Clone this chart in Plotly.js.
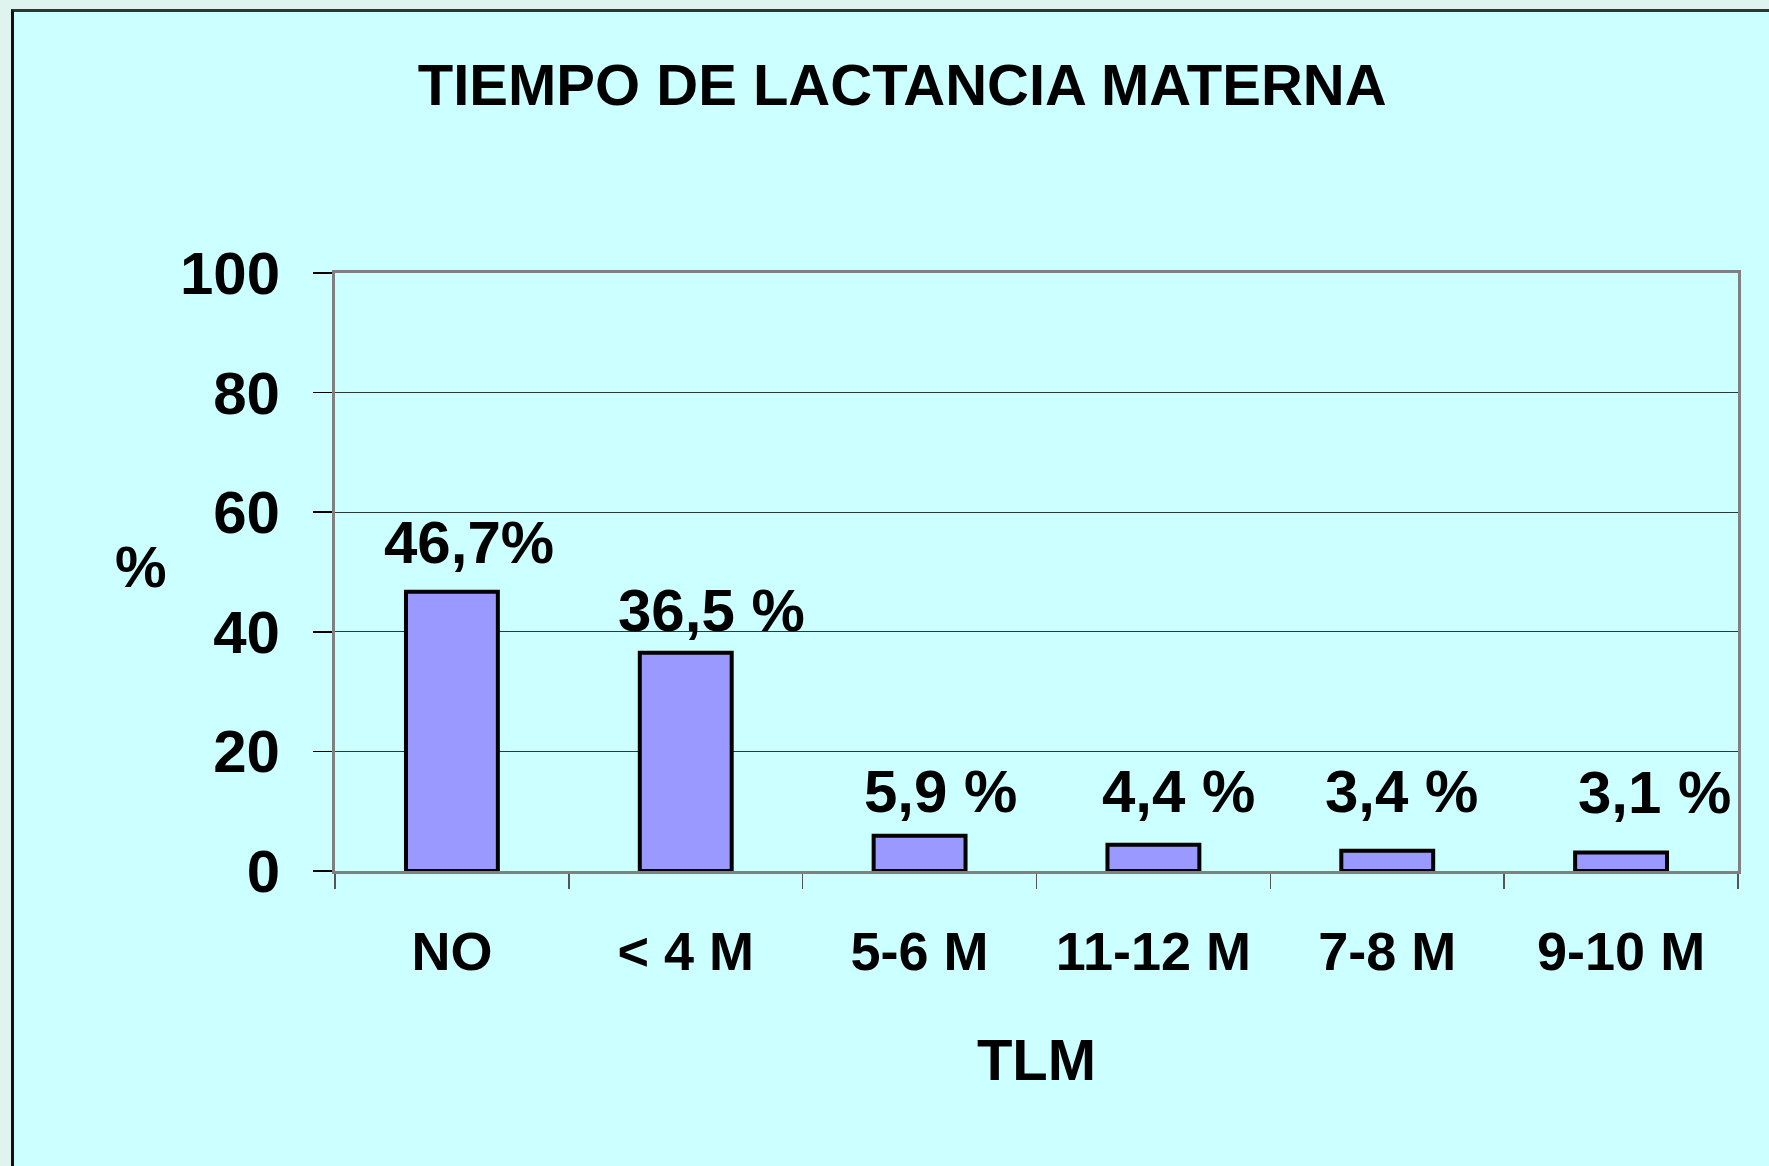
<!DOCTYPE html>
<html>
<head>
<meta charset="utf-8">
<script src="https://cdn.plot.ly/plotly-3.0.1.min.js"></script>
<style>
  html, body { margin: 0; padding: 0; width: 1769px; height: 1166px; overflow: hidden; background: #DFF4EF; }
  #frame { position: absolute; left: 11px; top: 9px; width: 1800px; height: 1200px; border-left: 3px solid #111; border-top: 3px solid #333; background: #CCFFFF; }
  #chart { position: absolute; left: 0; top: 0; width: 1769px; height: 1166px; }
</style>
</head>
<body>
<div id="frame"></div>
<div id="chart"></div>
<script>
const categories = ['NO', '< 4 M', '5-6 M', '11-12 M', '7-8 M', '9-10 M'];
const values = [46.7, 36.5, 5.9, 4.4, 3.4, 3.1];
const valueLabels = ['46,7%', '36,5 %', '5,9 %', '4,4 %', '3,4 %', '3,1 %'];
const yTicks = [0, 20, 40, 60, 80, 100];

const labelXShift = [17, 26, 21, 25, 14, 33];
const labelYShift = [49, 42, 44, 53, 59, 60];

const FONT = 'Liberation Sans, Arial, sans-serif';

const trace = {
  type: 'bar',
  x: categories,
  y: values,
  marker: { color: '#9999FF', line: { color: '#000000', width: 4 } },
  hoverinfo: 'none'
};

const annotations = categories.map((c, i) => ({
  x: c, y: values[i], xref: 'x', yref: 'y',
  text: valueLabels[i], showarrow: false,
  xanchor: 'center', yanchor: 'middle',
  xshift: labelXShift[i], yshift: labelYShift[i],
  font: { family: FONT, size: 60, color: '#000', weight: 'bold' }
}));

annotations.push({
  x: -0.138, y: 0.51, xref: 'paper', yref: 'paper',
  text: '%', showarrow: false, xanchor: 'center', yanchor: 'middle',
  font: { family: FONT, size: 58, color: '#000', weight: 'bold' }
});

const layout = {
  width: 1769, height: 1166,
  margin: { l: 335, r: 31, t: 273, b: 295 },
  paper_bgcolor: 'rgba(0,0,0,0)',
  plot_bgcolor: 'rgba(0,0,0,0)',
  showlegend: false,
  bargap: 0.607,
  title: {
    text: 'TIEMPO DE LACTANCIA MATERNA',
    xref: 'container', yref: 'container',
    x: 0.51, y: 0.927, xanchor: 'center', yanchor: 'middle',
    font: { family: FONT, size: 58, color: '#000', weight: 'bold' }
  },
  xaxis: {
    type: 'category',
    tickson: 'boundaries',
    ticks: 'outside', ticklen: 15, tickwidth: 1.5, tickcolor: '#555',
    showline: true, mirror: true, linecolor: '#808080', linewidth: 3,
    showgrid: false, zeroline: false,
    tickfont: { family: FONT, size: 54, color: '#000', weight: 'bold' },
    ticklabelstandoff: 31,
    title: {
      text: 'TLM', standoff: 60,
      font: { family: FONT, size: 58, color: '#000', weight: 'bold' }
    },
    fixedrange: true
  },
  yaxis: {
    range: [0, 100],
    tickvals: yTicks,
    ticktext: yTicks.map(String),
    ticks: 'outside', ticklen: 19, tickwidth: 1.5, tickcolor: '#000',
    showline: true, mirror: true, linecolor: '#808080', linewidth: 3,
    showgrid: true, gridcolor: '#2a3a3a', gridwidth: 1,
    zeroline: false,
    tickfont: { family: FONT, size: 60, color: '#000', weight: 'bold' },
    ticklabelstandoff: 21,
    fixedrange: true
  },
  annotations: annotations
};

Plotly.newPlot('chart', [trace], layout, { displayModeBar: false, staticPlot: true });
</script>
</body>
</html>
